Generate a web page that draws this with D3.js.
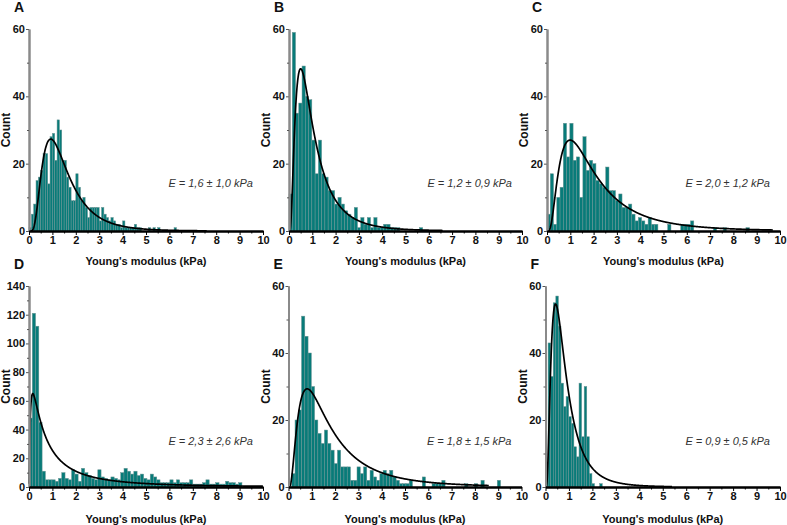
<!DOCTYPE html>
<html><head><meta charset="utf-8">
<script src="https://cdn.jsdelivr.net/npm/d3@7"></script>
<style>
body{margin:0;background:#fff}
text{font-family:"Liberation Sans",Arial,sans-serif}
</style></head>
<body><svg id="c" width="787" height="525"></svg>
<script>
// ---------------- data ----------------
const panelLabels = ["A","B","C","D","E","F"];
const annotations = ["E = 1,6 ± 1,0 kPa","E = 1,2 ± 0,9 kPa","E = 2,0 ± 1,2 kPa",
                     "E = 2,3 ± 2,6 kPa","E = 1,8 ± 1,5 kPa","E = 0,9 ± 0,5 kPa"];
const xTitle = "Young's modulus (kPa)";
const yTitle = "Count";
const xTickValues = [0,1,2,3,4,5,6,7,8,9,10];
const yMaxes = [60,60,60,140,60,60];
const binWidths = [0.1,0.14,0.14,0.14,0.14,0.11];

const countsA = [1,5,8,15,16,18,23,23,14,28,29,21,33,30,21,21,16,13,9,9,17,13,9,10,7,4,7,7,7,7,3,7,5,4,3,4,3,2,2,1,3,1,1,1,1,2,1,1,0,0,0,1,0,1,0,1,0,0,0,0,0,0,1];
const countsB = [11,59,35,38,49,40,39,27,17,27,17,16,12,12,8,10,8,6,5,4,7,1,4,2,4,1,4,1,1,2,2,1,1,1,0,0,0,0,0,0,1];
const countsC = [5,17,2,10,13,32,22,32,21,22,10,28,18,21,20,15,14,13,19,12,12,9,11,7,7,8,5,3,4,3,2,4,2,2,0,0,0,2,0,0,0,2,2,2,3,0,0,0,0,0,0,1,0,0,1,0,0,0,0,0,0,1];
const countsD = [48,121,112,45,11,5,5,5,4,6,10,6,5,12,9,4,13,10,8,6,5,12,7,6,5,7,6,5,10,13,11,9,11,8,9,6,5,9,7,5,3,3,3,5,3,5,3,3,3,5,2,2,2,3,5,2,2,3,2,2,4,3,3,2,3];
const countsE = [0,4,20,23,51,45,40,30,20,16,13,17,13,11,7,11,6,6,6,2,2,6,4,6,2,5,3,2,4,5,4,5,3,2,1,1,1,2,0,0,0,3,0,0,1,1,1,2,0,0,0,0,0,0,1,0,0,1,0,2,0,0,0,0,2];
const countsF = [7,43,33,55,57,48,31,24,27,21,19,12,9,31,15,30,15,4,1,0,0,1];
const allCounts = [countsA,countsB,countsC,countsD,countsE,countsF];

// log-normal fit curves: mode (kPa), peak height (count), log-sigma, end of drawn range
const fitModes  = [0.93,0.50,0.99,0.16,0.80,0.43];
const fitPeaks  = [27.3,48.2,27.0,65.0,29.3,54.6];
const fitSigmas = [0.60,0.76,0.76,1.34,0.82,0.72];
const fitEnds   = [7.6,6.6,9.7,10.0,8.6,5.4];

// ---------------- layout ----------------
const layout = [
  {x0:29,  x1:263, yt:29,  yb:231},
  {x0:289, x1:522, yt:29,  yb:231},
  {x0:547, x1:780, yt:29,  yb:231},
  {x0:29,  x1:263, yt:286, yb:487},
  {x0:288.5,x1:521.5,yt:286, yb:487},
  {x0:545.5,x1:780, yt:286, yb:487}
];

const svg = d3.select("#c");
const teal = "#087b79";

layout.forEach((L,i)=>{
  const g = svg.append("g");
  const x = d3.scaleLinear().domain([0,10]).range([L.x0,L.x1]);
  const y = d3.scaleLinear().domain([0,yMaxes[i]]).range([L.yb,L.yt]);
  const w = binWidths[i];
  const bins = allCounts[i].map((c,k)=>({x0:k*w, x1:(k+1)*w, c}));

  // bars
  g.selectAll("rect.bar").data(bins.filter(b=>b.c>0)).join("rect")
    .attr("class","bar")
    .attr("x",b=>x(b.x0)).attr("width",b=>x(b.x1)-x(b.x0))
    .attr("y",b=>y(b.c)).attr("height",b=>y(0)-y(b.c))
    .attr("fill",teal).attr("stroke","#6a9493").attr("stroke-width",0.5);

  // fit curve
  const pts = d3.range(0.005, fitEnds[i]+0.0001, 0.01).map(v=>{
    const Lg = Math.log(v/fitModes[i]);
    return [v, fitPeaks[i]*Math.exp(-Lg*Lg/(2*fitSigmas[i]*fitSigmas[i]))];
  });
  g.append("path").datum(pts)
    .attr("d", d3.line().x(d=>x(d[0])).y(d=>y(d[1])))
    .attr("fill","none").attr("stroke","#000").attr("stroke-width",1.7);

  // y axis
  const ymax = yMaxes[i];
  const yMajor = d3.range(0, ymax+1, 20);
  const yMinor = d3.range(10, ymax, 20);
  const ya = g.append("g").attr("transform",`translate(${L.x0},0)`)
    .call(d3.axisLeft(y).tickValues(yMajor).tickSize(3).tickPadding(1).tickSizeOuter(0));
  const yam = g.append("g").attr("transform",`translate(${L.x0},0)`)
    .call(d3.axisLeft(y).tickValues(yMinor).tickSize(2).tickFormat("").tickSizeOuter(0));
  [ya,yam].forEach(a=>{
    a.select(".domain").attr("stroke","#8a8a8a").attr("stroke-width",2);
    a.selectAll(".tick line").attr("stroke","#555").attr("stroke-width",1);
  });
  ya.selectAll("text").attr("font-size",11).attr("font-weight","bold").attr("fill","#111")
    .attr("font-family","'Liberation Sans',Arial,sans-serif");

  // x axis
  const xa = g.append("g").attr("transform",`translate(0,${L.yb})`)
    .call(d3.axisBottom(x).tickValues(xTickValues).tickSize(4).tickPadding(1).tickSizeOuter(0));
  const xam = g.append("g").attr("transform",`translate(0,${L.yb})`)
    .call(d3.axisBottom(x).tickValues(d3.range(0.5,10,1)).tickSize(2.5).tickFormat("").tickSizeOuter(0));
  [xa,xam].forEach(a=>{
    a.select(".domain").attr("stroke","#000").attr("stroke-width",1.8);
    a.selectAll(".tick line").attr("stroke","#000").attr("stroke-width",1);
  });
  xa.selectAll("text").attr("font-size",11).attr("font-weight","bold").attr("fill","#111")
    .attr("font-family","'Liberation Sans',Arial,sans-serif");

  // titles
  g.append("text").attr("x",(L.x0+L.x1)/2).attr("y",L.yb+(i<3?34:36))
    .attr("text-anchor","middle").attr("font-size",11).attr("font-weight","bold")
    .attr("fill","#111").text(xTitle);
  g.append("text").attr("transform",`translate(${L.x0-19},${(L.yt+L.yb)/2}) rotate(-90)`)
    .attr("text-anchor","middle").attr("font-size",12).attr("font-weight","bold")
    .attr("fill","#111").text(yTitle);
  // panel letter
  g.append("text").attr("x",L.x0-15).attr("y",L.yt-17)
    .attr("font-size",14).attr("font-weight","bold").attr("fill","#111").text(panelLabels[i]);
  // annotation
  g.append("text").attr("x",L.x1-10).attr("y",L.yb-(i<3?44:42))
    .attr("text-anchor","end").attr("font-size",11).attr("font-style","italic")
    .attr("fill","#333").text(annotations[i]);
});
</script>
</body></html>
